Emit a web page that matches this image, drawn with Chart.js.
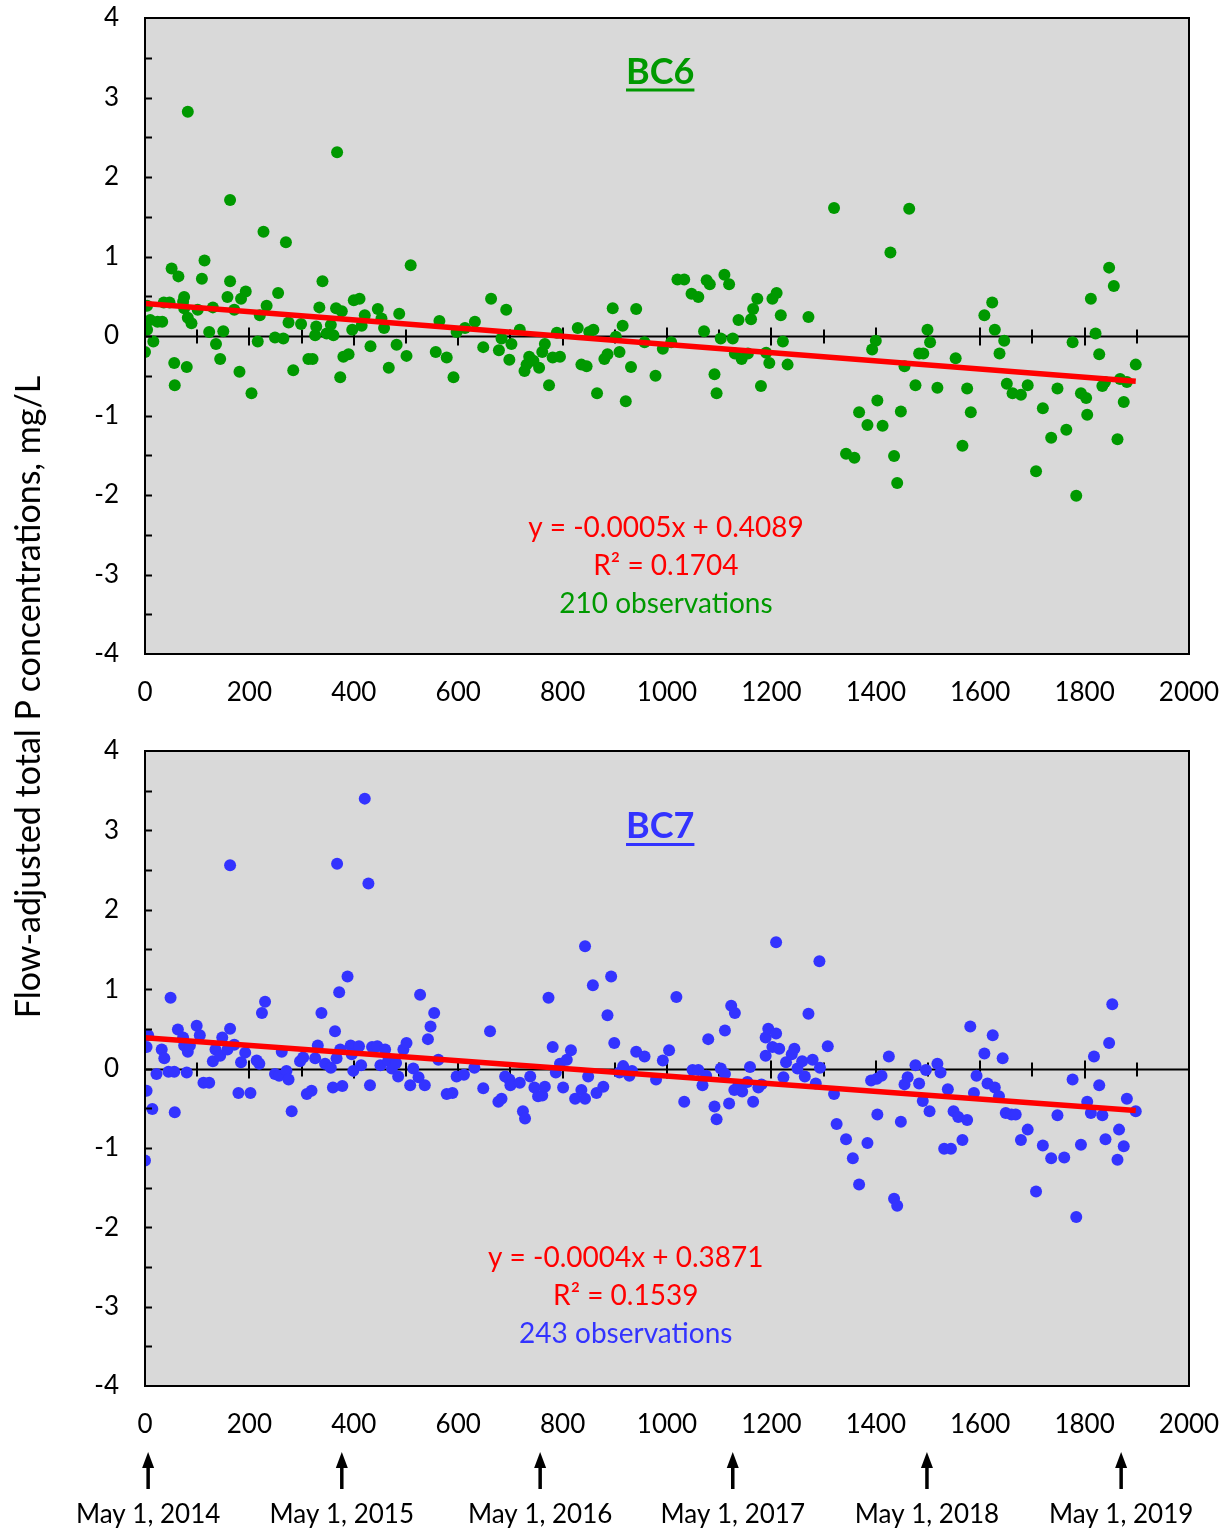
<!DOCTYPE html>
<html>
<head>
<meta charset="utf-8">
<script src="https://cdn.jsdelivr.net/npm/chart.js@4.4.1/dist/chart.umd.min.js"></script>
<style>
body { margin: 0; background: #fff; width: 1229px; height: 1529px; position: relative; overflow: hidden; font-family: Lato, sans-serif; }
#top { position: absolute; left: 0; top: 0; width: 1229px; height: 720px; }
#bot { position: absolute; left: 0; top: 720px; width: 1229px; height: 809px; }
#ylab { position: absolute; left: -373px; top: 678px; width: 800px; text-align: center; font-size: 34px; line-height: 38px; color: #000; transform: rotate(-90deg); white-space: nowrap; }
</style>
</head>
<body>
<div id="top"><canvas id="c1"></canvas></div>
<div id="bot"><canvas id="c2"></canvas></div>
<div id="ylab">Flow-adjusted total P concentrations, mg/L</div>
<script>
// BC6 observations (days since start, mg/L)
const bc6Days = [0,4,4,10,16,24,33,36,47,51,56,57,64,73,75,75,80,82,82,89,101,109,114,123,130,136,144,150,158,163,163,171,181,184,193,204,216,220,227,233,249,255,265,270,275,284,299,313,321,326,328,334,340,348,356,361,366,368,374,377,380,390,397,400,411,415,421,432,446,453,458,467,482,487,501,509,
  557,564,578,591,597,613,632,648,663,678,683,692,698,702,718,727,731,736,744,755,761,766,774,781,789,795,829,836,846,851,859,866,880,886,896,902,909,915,921,931,941,957,978,992,1008,1020,1033,1047,1060,1071,1076,1082,1091,1095,1103,1110,
  1119,1126,1130,1137,1143,1155,1161,1165,1173,1180,1190,1196,1202,1210,1218,1222,1231,1271,1320,1343,1359,1368,1384,1393,1400,1403,1413,1428,1435,1441,1448,1455,1464,1476,1483,1491,1499,1504,1518,1553,1566,1575,1582,1608,1623,1628,1637,1646,1651,1662,
  1678,1691,1707,1720,1736,1748,1765,1777,1784,1793,1803,1805,1812,1821,1828,1834,1839,1847,1856,1863,1868,1875,1881,1898];
const bc6Values = [-0.2,0.38,0.08,0.2,-0.07,0.18,0.18,0.42,0.42,0.85,-0.34,-0.62,0.75,0.43,0.49,0.35,-0.39,2.82,0.23,0.16,0.33,0.72,0.95,0.05,0.36,-0.1,-0.29,0.06,0.49,1.71,0.69,0.33,-0.45,0.47,0.56,-0.72,-0.07,0.26,1.31,0.38,-0.02,0.54,-0.03,1.18,0.17,-0.43,0.15,-0.29,-0.29,0.01,0.12,0.36,0.69,0.03,0.14,0.01,0.35,2.31,-0.52,0.31,-0.26,-0.23,0.08,0.45,0.47,0.13,0.26,-0.13,0.34,0.22,0.1,-0.4,-0.11,0.28,-0.25,0.89,
  -0.2,0.19,-0.27,-0.52,0.05,0.1,0.18,-0.14,0.47,-0.18,-0.03,0.33,-0.3,-0.1,0.08,-0.44,-0.36,-0.26,-0.31,-0.4,-0.2,-0.1,-0.62,-0.27,0.04,-0.26,0.1,-0.36,-0.38,0.05,0.08,-0.72,-0.29,-0.23,0.35,-0.01,-0.2,0.13,-0.82,-0.39,0.34,-0.08,-0.5,-0.16,-0.08,0.71,0.71,0.53,0.49,0.06,0.7,0.65,-0.48,-0.72,-0.03,0.77,
  0.65,-0.03,-0.22,0.2,-0.29,-0.22,0.21,0.34,0.47,-0.63,-0.21,-0.34,0.47,0.54,0.26,-0.07,-0.36,0.24,1.61,-1.48,-1.53,-0.96,-1.12,-0.17,-0.06,-0.81,-1.13,1.05,-1.51,-1.85,-0.95,-0.38,1.6,-0.62,-0.22,-0.22,0.08,-0.08,-0.65,-0.28,-1.38,-0.66,-0.96,0.26,0.42,0.08,-0.22,-0.06,-0.6,-0.72,
  -0.74,-0.62,-1.7,-0.91,-1.28,-0.66,-1.18,-0.08,-2.01,-0.72,-0.78,-0.99,0.47,0.03,-0.23,-0.63,-0.58,0.86,0.63,-1.3,-0.54,-0.83,-0.58,-0.36];

// BC7 observations
const bc7Days = [0,3,3,6,14,22,32,37,45,49,56,57,63,73,75,80,82,86,99,105,112,123,130,135,144,148,158,163,163,171,179,184,192,202,214,219,224,230,249,257,262,271,275,281,297,303,310,319,326,331,338,345,356,360,364,367,368,372,374,378,388,394,396,399,410,414,421,428,431,435,445,451,460,466,473,481,485,495,501,508,514,524,527,536,542,547,554,
  562,578,589,597,611,631,648,661,677,683,690,698,700,718,724,728,738,746,753,761,766,773,781,787,795,801,808,816,824,836,843,843,849,858,865,878,886,893,899,909,916,928,933,941,957,979,992,1004,1018,1033,1049,1060,1068,1075,1079,1091,1095,1103,1111,
  1111,1119,1123,1129,1130,1137,1144,1154,1159,1165,1175,1181,1189,1189,1194,1202,1209,1209,1215,1223,1228,1239,1244,1250,1259,1264,1271,1279,1285,1292,1293,1308,1320,1325,1343,1356,1368,1384,1391,1402,1403,1411,1425,1435,1441,1448,1455,1461,1476,1483,1490,1496,1503,1518,1524,1531,1538,1544,1549,1558,1566,1575,1581,1588,1593,1608,1614,1624,1628,1636,1643,1649,1660,
  1668,1678,1691,1707,1720,1736,1748,1761,1777,1784,1793,1805,1812,1818,1828,1834,1840,1847,1853,1863,1866,1875,1881,1898];
const bc7Values = [-1.16,0.27,-0.28,0.42,-0.51,-0.07,0.24,0.13,-0.04,0.89,-0.04,-0.55,0.49,0.39,0.29,-0.05,0.21,0.29,0.54,0.42,-0.18,-0.18,0.09,0.24,0.16,0.39,0.24,2.56,0.5,0.3,-0.31,0.08,0.2,-0.31,0.1,0.06,0.7,0.84,-0.07,-0.09,0.21,-0.03,-0.14,-0.54,0.09,0.14,-0.32,-0.28,0.13,0.29,0.7,0.06,0.01,-0.24,0.47,0.13,2.58,0.96,0.24,-0.22,1.16,0.29,0.18,-0.03,0.28,0.04,3.4,2.33,-0.21,0.27,0.28,0.04,0.24,0.1,0,0.07,-0.1,0.24,0.32,-0.21,0,-0.11,0.93,-0.21,0.37,0.53,0.7,
  0.11,-0.32,-0.31,-0.1,-0.08,0.01,-0.25,0.47,-0.42,-0.38,-0.1,-0.14,-0.21,-0.18,-0.54,-0.63,-0.1,-0.24,-0.35,-0.34,-0.23,0.89,0.27,-0.05,0.06,-0.24,0.11,0.23,-0.38,-0.27,-0.38,1.54,-0.1,1.05,-0.31,-0.23,0.67,1.16,0.32,-0.05,0.03,-0.09,-0.03,0.21,0.15,-0.14,0.1,0.23,0.9,-0.42,-0.02,-0.02,-0.21,-0.09,0.37,-0.48,-0.64,0,0.48,
  -0.07,-0.44,0.79,-0.27,0.7,-0.21,-0.29,-0.17,0.02,-0.42,-0.24,-0.2,0.39,0.16,0.5,0.27,1.59,0.44,0.25,-0.11,0.08,0.18,0.25,0,0.09,-0.1,0.69,0.11,-0.19,1.35,0.01,0.28,-0.32,-0.7,-0.89,-1.13,-1.46,-0.94,-0.15,-0.13,-0.58,-0.09,0.15,-1.64,-1.73,-0.67,-0.2,-0.11,0.04,-0.19,-0.41,-0.02,-0.54,0.06,-0.05,-1.01,-0.26,-1.01,-0.54,-0.61,-0.9,-0.65,0.53,-0.31,-0.09,0.19,-0.19,0.42,-0.24,-0.35,0.13,-0.56,-0.58,
  -0.58,-0.9,-0.77,-1.55,-0.97,-1.13,-0.59,-1.12,-0.14,-1.87,-0.96,-0.42,-0.56,0.15,-0.21,-0.59,-0.89,0.32,0.81,-1.15,-0.77,-0.98,-0.38,-0.54];

// linear trend end points
const trendDays = [0, 1898];
const bc6Trend = [0.41, -0.57];
const bc7Trend = [0.387, -0.53];

const xTicks = [0, 200, 400, 600, 800, 1000, 1200, 1400, 1600, 1800, 2000];
const arrowDays = [6, 377, 757, 1126, 1498, 1870];
const arrowDates = ['May 1, 2014', 'May 1, 2015', 'May 1, 2016', 'May 1, 2017', 'May 1, 2018', 'May 1, 2019'];

const FONT = 'Lato, sans-serif';

function pts(xs, ys) {
    return xs.map((x, i) => ({ x: x, y: ys[i] }));
}

const decor = {
    id: 'decor',
    beforeDraw(chart) {
        const ctx = chart.ctx, a = chart.chartArea;
        ctx.save();
        ctx.fillStyle = '#d9d9d9';
        ctx.fillRect(a.left, a.top, a.right - a.left, a.bottom - a.top);
        ctx.restore();
    },
    beforeDatasetsDraw(chart) {
        const ctx = chart.ctx, a = chart.chartArea;
        const xs = chart.scales.x, ys = chart.scales.y;
        const y0 = Math.round(ys.getPixelForValue(0)) + 0.5;
        ctx.save();
        ctx.strokeStyle = '#000';
        ctx.lineWidth = 2;
        ctx.beginPath();
        ctx.moveTo(a.left, y0);
        ctx.lineTo(a.right, y0);
        for (let v = 100; v < 2000; v += 100) {
            const px = Math.round(xs.getPixelForValue(v));
            const h = v % 200 === 0 ? 9 : 7;
            ctx.moveTo(px, y0 - h);
            ctx.lineTo(px, y0 + h);
        }
        ctx.stroke();
        ctx.restore();
    },
    afterDatasetsDraw(chart, args, opts) {
        const ctx = chart.ctx, a = chart.chartArea;
        const xs = chart.scales.x, ys = chart.scales.y;
        ctx.save();
        ctx.strokeStyle = '#000';
        ctx.lineWidth = 2;
        ctx.strokeRect(a.left, a.top, a.right - a.left, a.bottom - a.top);
        ctx.beginPath();
        for (let v = -3.5; v < 4; v += 0.5) {
            const py = Math.round(ys.getPixelForValue(v)) + 0.5;
            ctx.moveTo(a.left, py);
            ctx.lineTo(a.left + 7, py);
        }
        ctx.stroke();

        // station title, underlined
        ctx.fillStyle = opts.color;
        ctx.strokeStyle = opts.color;
        ctx.font = 'bold 36px ' + FONT;
        ctx.textAlign = 'center';
        ctx.textBaseline = 'middle';
        const tx = xs.getPixelForValue(opts.titleAt[0]);
        const ty = ys.getPixelForValue(opts.titleAt[1]);
        ctx.fillText(opts.title, tx, ty);
        const w = ctx.measureText(opts.title).width;
        ctx.lineWidth = 3;
        ctx.beginPath();
        ctx.moveTo(tx - w / 2, ty + 18);
        ctx.lineTo(tx + w / 2, ty + 18);
        ctx.stroke();

        // regression text
        ctx.font = '28px ' + FONT;
        const ex = xs.getPixelForValue(opts.textAt[0]);
        const ey = ys.getPixelForValue(opts.textAt[1]);
        ctx.fillStyle = '#ff0000';
        ctx.fillText(opts.eq, ex, ey);
        ctx.fillText(opts.r2, ex, ey + 38);
        ctx.fillStyle = opts.color;
        ctx.fillText(opts.obs, ex, ey + 76);
        ctx.restore();
    },
    afterDraw(chart, args, opts) {
        if (!opts.arrows) return;
        const ctx = chart.ctx, a = chart.chartArea, xs = chart.scales.x;
        ctx.save();
        ctx.fillStyle = '#000';
        ctx.strokeStyle = '#000';
        ctx.font = '26px ' + FONT;
        ctx.textAlign = 'center';
        ctx.textBaseline = 'middle';
        arrowDays.forEach((d, i) => {
            const px = xs.getPixelForValue(d);
            const tip = a.bottom + 66;
            ctx.lineWidth = 3.5;
            ctx.beginPath();
            ctx.moveTo(px, tip + 10);
            ctx.lineTo(px, tip + 37);
            ctx.stroke();
            ctx.beginPath();
            ctx.moveTo(px, tip);
            ctx.lineTo(px - 6, tip + 16);
            ctx.lineTo(px + 6, tip + 16);
            ctx.closePath();
            ctx.fill();
            ctx.fillText(arrowDates[i], px, a.bottom + 129);
        });
        ctx.restore();
    }
};

function makeChart(id, days, values, trend, color, padTop, xHeight, deco) {
    return new Chart(document.getElementById(id), {
        type: 'scatter',
        data: {
            datasets: [{
                data: pts(trendDays, trend),
                showLine: true,
                borderColor: '#ff0000',
                borderWidth: 5.5,
                pointRadius: 0,
                order: 0
            }, {
                data: pts(days, values),
                backgroundColor: color,
                borderWidth: 0,
                pointRadius: 6,
                order: 1
            }]
        },
        options: {
            responsive: true,
            maintainAspectRatio: false,
            animation: false,
            devicePixelRatio: 1,
            layout: { padding: { top: padTop, right: 40, left: 0, bottom: 0 } },
            plugins: { legend: { display: false }, tooltip: { enabled: false }, decor: deco },
            scales: {
                x: {
                    type: 'linear', min: 0, max: 2000,
                    afterBuildTicks: s => { s.ticks = xTicks.map(v => ({ value: v })); },
                    ticks: { color: '#000', font: { family: FONT, size: 26 }, padding: 23, maxRotation: 0, callback: v => String(v) },
                    grid: { display: false, drawTicks: false },
                    border: { display: false },
                    afterFit: s => { s.height = xHeight; s.paddingLeft = 0; s.paddingRight = 0; }
                },
                y: {
                    min: -4, max: 4,
                    ticks: { stepSize: 1, color: '#000', font: { family: FONT, size: 26 }, padding: 26, callback: v => String(v) },
                    grid: { display: false, drawTicks: false },
                    border: { display: false },
                    afterFit: s => { s.width = 145; s.paddingTop = 0; s.paddingBottom = 0; }
                }
            }
        },
        plugins: [decor]
    });
}

makeChart('c1', bc6Days, bc6Values, bc6Trend, 'rgb(0,153,0)', 18, 66, {
    title: 'BC6', color: 'rgb(0,153,0)', titleAt: [987, 3.32],
    textAt: [998, -2.42], eq: 'y = -0.0005x + 0.4089', r2: 'R² = 0.1704', obs: '210 observations'
});
makeChart('c2', bc7Days, bc7Values, bc7Trend, 'rgb(51,51,255)', 31, 143, {
    title: 'BC7', color: 'rgb(51,51,255)', titleAt: [987, 3.05],
    textAt: [921, -2.39], eq: 'y = -0.0004x + 0.3871', r2: 'R² = 0.1539', obs: '243 observations', arrows: true
});
</script>
</body>
</html>
